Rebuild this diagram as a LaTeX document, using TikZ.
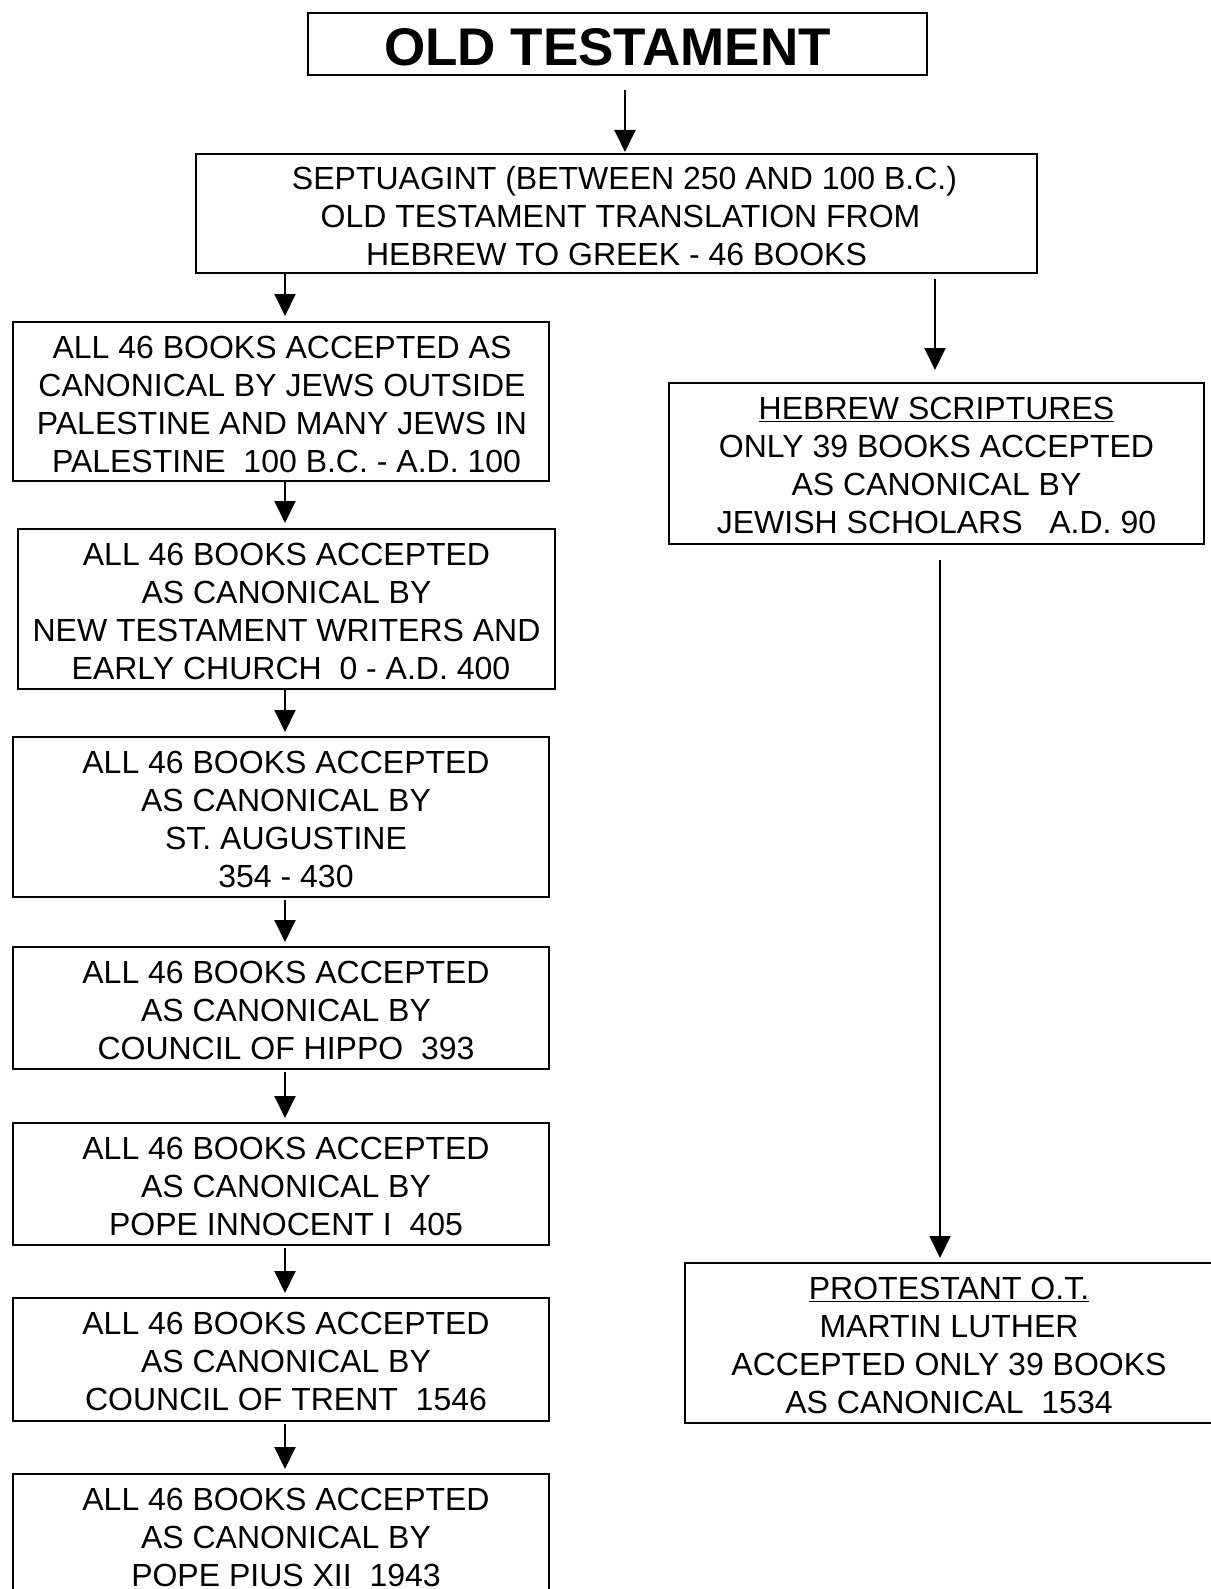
\documentclass[tikz,border=0pt]{standalone}
\usepackage{fontspec}
\setmainfont{Liberation Sans}
\usetikzlibrary{arrows.meta}
\newcommand{\mybox}[5]{\parbox[c][#2][t]{#1}{\centering\leftskip=#3 plus 1fil\rightskip=#4 plus 1fil\fontsize{32}{38}\selectfont\rule{0pt}{36pt}#5}}
\begin{document}
\begin{tikzpicture}[x=1pt,y=-1pt,
  box/.style={draw,line width=2pt,inner sep=0pt,anchor=north west},
  arr/.style={line width=2pt,-{Triangle[width=21pt,length=22pt]}}]
\useasboundingbox[fill=white] (0,0) rectangle (1210,1589);
\node[box] (title) at (307,12) {\parbox[c][62pt][t]{619pt}{\centering\fontsize{53}{60}\selectfont\bfseries\rule{0pt}{53pt}\hspace*{-20pt}OLD TESTAMENT}};
\node[box] (sept) at (195,153) {\mybox{841pt}{119pt}{0pt}{0pt}{\hspace*{16pt}SEPTUAGINT (BETWEEN 250 AND 100 B.C.)\\\hspace*{8pt}OLD TESTAMENT TRANSLATION FROM\\HEBREW TO GREEK - 46 BOOKS}};
\node[box] (l1) at (12,321) {\mybox{536pt}{159pt}{2pt}{0pt}{ALL 46 BOOKS ACCEPTED AS\\CANONICAL BY JEWS OUTSIDE\\PALESTINE AND MANY JEWS IN\\\hspace*{9pt}PALESTINE\ \ 100 B.C. - A.D. 100}};
\node[box] (l2) at (17,528) {\mybox{537pt}{160pt}{0pt}{0pt}{ALL 46 BOOKS ACCEPTED\\AS CANONICAL BY\\NEW TESTAMENT WRITERS AND\\\hspace*{9pt}EARLY CHURCH\ \ 0 - A.D. 400}};
\node[box] (l3) at (12,736) {\mybox{536pt}{160pt}{10pt}{0pt}{ALL 46 BOOKS ACCEPTED\\AS CANONICAL BY\\ST. AUGUSTINE\\354 - 430}};
\node[box] (l4) at (12,946) {\mybox{536pt}{122pt}{10pt}{0pt}{ALL 46 BOOKS ACCEPTED\\AS CANONICAL BY\\COUNCIL OF HIPPO\ \ 393}};
\node[box] (l5) at (12,1122) {\mybox{536pt}{122pt}{10pt}{0pt}{ALL 46 BOOKS ACCEPTED\\AS CANONICAL BY\\POPE INNOCENT I\ \ 405}};
\node[box] (l6) at (12,1297) {\mybox{536pt}{123pt}{10pt}{0pt}{ALL 46 BOOKS ACCEPTED\\AS CANONICAL BY\\COUNCIL OF TRENT\ \ 1546}};
\node[box] (l7) at (12,1473) {\mybox{536pt}{140pt}{10pt}{0pt}{ALL 46 BOOKS ACCEPTED\\AS CANONICAL BY\\POPE PIUS XII\ \ 1943}};
\node[box] (heb) at (668,382) {\mybox{535pt}{161pt}{0pt}{0pt}{\underline{HEBREW SCRIPTURES}\\ONLY 39 BOOKS ACCEPTED\\AS CANONICAL BY\\JEWISH SCHOLARS\ \ \ A.D. 90}};
\node[box] (prot) at (684,1262) {\mybox{528pt}{160pt}{0pt}{0pt}{\underline{PROTESTANT O.T.}\\MARTIN LUTHER\\ACCEPTED ONLY 39 BOOKS\\AS CANONICAL\ \ 1534}};
\draw[arr] ([xshift=7.5pt,yshift=-14pt]title.south) -- ([xshift=8.5pt,yshift=1pt]sept.north);
\draw[arr] ([xshift=-331.5pt,yshift=2pt]sept.south) -- ([xshift=4pt,yshift=5pt]l1.north);
\draw[arr] ([xshift=4pt,yshift=2pt]l1.south) -- ([xshift=-1.5pt,yshift=5pt]l2.north);
\draw[arr] ([xshift=-1.5pt,yshift=1pt]l2.south) -- ([xshift=4pt,yshift=4pt]l3.north);
\draw[arr] ([xshift=4pt,yshift=-2pt]l3.south) -- ([xshift=4pt,yshift=4pt]l4.north);
\draw[arr] ([xshift=4pt,yshift=-2pt]l4.south) -- ([xshift=4pt,yshift=4pt]l5.north);
\draw[arr] ([xshift=4pt,yshift=-2pt]l5.south) -- ([xshift=4pt,yshift=4pt]l6.north);
\draw[arr] ([xshift=4pt,yshift=-2pt]l6.south) -- ([xshift=4pt,yshift=4pt]l7.north);
\draw[arr] ([xshift=318.5pt,yshift=-5pt]sept.south) -- ([xshift=-1.5pt,yshift=12pt]heb.north);
\draw[arr] ([xshift=3.5pt,yshift=-15pt]heb.south) -- ([xshift=-9pt,yshift=4pt]prot.north);
\end{tikzpicture}
\end{document}
